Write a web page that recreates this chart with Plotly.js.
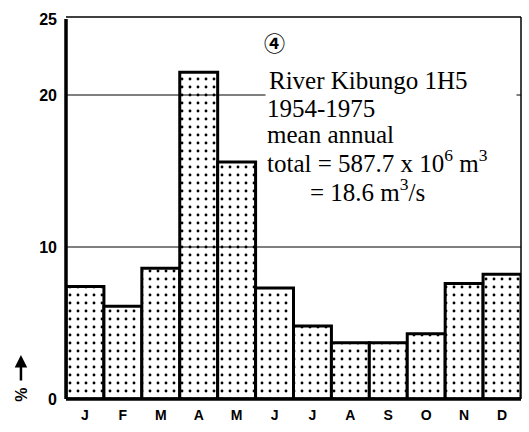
<!DOCTYPE html>
<html>
<head>
<meta charset="utf-8">
<script src="https://cdn.plot.ly/plotly-3.0.1.min.js"></script>
<style>html,body{margin:0;padding:0;background:#fff;}#chart{width:529px;height:432px;}</style>
</head>
<body>
<div id="chart"></div>
<script>
// Monthly share of mean annual runoff (%), River Kibungo 1H5, 1954-1975
const months = ['J','F','M','A','M','J','J','A','S','O','N','D'];
const percent = [7.4, 6.1, 8.6, 21.5, 15.6, 7.3, 4.8, 3.7, 3.7, 4.3, 7.6, 8.2];
const yTicks = [0, 10, 20, 25];
const gridAt = [10, 20];
const noteLines = [
  'River Kibungo 1H5',
  '1954-1975',
  'mean annual',
  'total = 587.7 x 10<sup>6</sup> m<sup>3</sup>',
  '= 18.6 m<sup>3</sup>/s'
];

const idx = months.map((_, i) => i);

const trace = {
  type: 'bar',
  x: idx,
  y: percent,
  width: 1,
  marker: {
    color: '#ffffff',
    line: {color: '#000', width: 3},
    pattern: {shape: '.', fgcolor: '#000', bgcolor: '#fff', size: 8, solidity: 0.1, fillmode: 'replace'}
  },
  hoverinfo: 'skip'
};

const serif = 'Liberation Serif, DejaVu Serif, serif';
const noteX = [0.437, 0.437, 0.437, 0.437, 0.532];
const noteY = [0.837, 0.765, 0.697, 0.626, 0.549];
const annotations = noteLines.map((t, i) => ({
  text: t, xref: 'paper', yref: 'paper', x: noteX[i], y: noteY[i],
  xanchor: 'left', yanchor: 'middle', showarrow: false, align: 'left',
  font: {family: serif, size: 25, color: '#000'}
}));
// first note line carries a white box that interrupts the upper gridline, as in the original
annotations[0].bgcolor = '#ffffff';
annotations[0].width = 244;
annotations[0].borderpad = 3;
annotations.push({
  text: '④', xref: 'paper', yref: 'paper', x: 0.459, y: 0.939,
  xanchor: 'center', yanchor: 'middle', showarrow: false,
  font: {family: 'Noto Sans CJK JP, DejaVu Sans', size: 21, weight: 'bold', color: '#000'}
});
annotations.push({
  text: '', xref: 'paper', yref: 'paper', x: -0.099, y: 0.116,
  showarrow: true, ax: 0, ay: 27, arrowhead: 2, arrowsize: 1, arrowwidth: 2.5, arrowcolor: '#000'
});
annotations.push({
  text: '%', xref: 'paper', yref: 'paper', x: -0.097, y: 0.011,
  xanchor: 'center', yanchor: 'middle', showarrow: false, textangle: -90,
  font: {family: 'Liberation Sans, Arial, sans-serif', size: 16, weight: 'bold', color: '#000'}
});

const shapes = [];
gridAt.forEach(v => shapes.push({
  type: 'line', xref: 'paper', yref: 'y', x0: 0, x1: 1, y0: v, y1: v,
  line: {color: '#000', width: 1}, layer: 'above'
}));
// frame: thick left/bottom, thin top/right
shapes.push({type: 'line', xref: 'paper', yref: 'paper', x0: 0, x1: 0, y0: 0, y1: 1, line: {color: '#000', width: 3.5}, layer: 'above'});
shapes.push({type: 'line', xref: 'paper', yref: 'paper', x0: 0, x1: 1, y0: 0, y1: 0, line: {color: '#000', width: 3.5}, layer: 'above'});
shapes.push({type: 'line', xref: 'paper', yref: 'paper', x0: 0, x1: 1, y0: 1.005, y1: 1.005, line: {color: '#000', width: 1.5}, layer: 'above'});
shapes.push({type: 'line', xref: 'paper', yref: 'paper', x0: 1, x1: 1, y0: 0, y1: 1.005, line: {color: '#000', width: 1.5}, layer: 'above'});

const layout = {
  width: 529, height: 432,
  margin: {l: 66, r: 8, t: 19, b: 33, pad: 0},
  paper_bgcolor: '#fff', plot_bgcolor: '#fff',
  showlegend: false,
  bargap: 0,
  xaxis: {
    range: [-0.5, 11.5], tickvals: idx, ticktext: months,
    showgrid: false, zeroline: false, showline: false, ticks: '',
    tickfont: {family: 'Liberation Sans, Arial, sans-serif', size: 14, weight: 'bold', color: '#000'},
    ticklabelstandoff: 6
  },
  yaxis: {
    range: [0, 25], tickvals: yTicks, ticktext: yTicks.map(String),
    showgrid: false, zeroline: false, showline: false, ticks: '',
    tickfont: {family: 'Liberation Sans, Arial, sans-serif', size: 16, weight: 'bold', color: '#000'},
    ticklabelstandoff: 8
  },
  annotations: annotations,
  shapes: shapes
};

Plotly.newPlot('chart', [trace], layout, {displayModeBar: false, staticPlot: true});
</script>
</body>
</html>
